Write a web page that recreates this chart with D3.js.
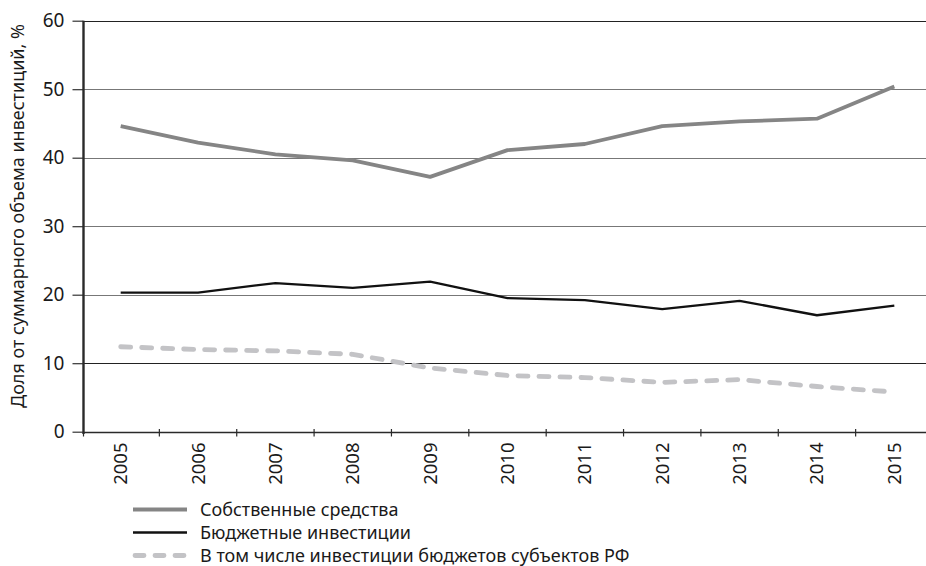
<!DOCTYPE html>
<html><head><meta charset="utf-8">
<script src="https://cdn.jsdelivr.net/npm/d3@7"></script>
<style>
html,body{margin:0;padding:0;background:#fff;}
svg{display:block;font-family:"Noto Sans",sans-serif;}
</style></head>
<body>
<svg id="c" width="926" height="566"></svg>
<script>
const years = ["2005","2006","2007","2008","2009","2010","2011","2012","2013","2014","2015"];
const ownFunds = [44.6, 42.2, 40.5, 39.6, 37.2, 41.1, 42.0, 44.6, 45.3, 45.7, 50.4];
const budgetInv = [20.3, 20.3, 21.7, 21.0, 21.9, 19.5, 19.2, 17.9, 19.1, 17.0, 18.4];
const regionalInv = [12.4, 12.0, 11.8, 11.3, 9.3, 8.2, 7.9, 7.2, 7.6, 6.6, 5.8];
const yTicks = [0, 10, 20, 30, 40, 50, 60];
const seriesNames = ["Собственные средства", "Бюджетные инвестиции", "В том числе инвестиции бюджетов субъектов РФ"];
const yTitle = "Доля от суммарного объема инвестиций, %";

const svg = d3.select("#c");
const x = d3.scaleBand().domain(years).range([82, 933]);
const y = d3.scaleLinear().domain([0, 60]).range([431.7, 20.7]);
const cx = d => x(d) + x.bandwidth() / 2;

// gridlines
svg.append("g").selectAll("line").data(yTicks.filter(t => t > 0)).join("line")
  .attr("x1", 83.5).attr("x2", 926)
  .attr("y1", d => Math.round(y(d)) + 0.5).attr("y2", d => Math.round(y(d)) + 0.5)
  .attr("stroke", d => (d === 60 || d === 10) ? "#222" : "#777")
  .attr("stroke-width", 1.2);

// y axis
const yAxis = d3.axisLeft(y).tickValues(yTicks).tickSize(11).tickPadding(8).tickFormat(d3.format("d"));
const gy = svg.append("g").attr("transform", "translate(83.5,0)").call(yAxis);
gy.select(".domain").remove();
gy.selectAll(".tick line").attr("stroke", "#333").attr("stroke-width", 1.2);
gy.selectAll(".tick text").attr("font-size", 19).attr("fill", "#1a1a1a").attr("font-family", "Noto Sans");
svg.append("line").attr("x1", 83.5).attr("x2", 83.5).attr("y1", 20.7).attr("y2", 434)
  .attr("stroke", "#2a2a2a").attr("stroke-width", 2.4);

// x axis
const gx = svg.append("g").attr("transform", "translate(0,432.5)");
gx.append("line").attr("x1", 83.5).attr("x2", 926).attr("y1", 0).attr("y2", 0)
  .attr("stroke", "#2a2a2a").attr("stroke-width", 1.6);
gx.selectAll("line.tk").data(years).join("line").attr("class", "tk")
  .attr("x1", d => x(d) + x.bandwidth()).attr("x2", d => x(d) + x.bandwidth())
  .attr("y1", -3.5).attr("y2", 4).attr("stroke", "#2a2a2a").attr("stroke-width", 1.2);
gx.selectAll("line.tk0").data([years[0]]).join("line").attr("class", "tk0")
  .attr("x1", 83.5).attr("x2", 83.5).attr("y1", 0).attr("y2", 4).attr("stroke", "#2a2a2a").attr("stroke-width", 1.2);
gx.selectAll("text").data(years).join("text")
  .attr("transform", d => `translate(${cx(d) + 6.5},10) rotate(-90)`)
  .attr("text-anchor", "end").attr("font-size", 18.5).attr("fill", "#1a1a1a")
  .text(d => d);

// y title
svg.append("text").attr("transform", "translate(24,216) rotate(-90)")
  .attr("text-anchor", "middle").attr("font-size", 18).attr("fill", "#1a1a1a").text(yTitle);

// lines
const line = d3.line().x((d, i) => cx(years[i])).y(d => y(d));
const styles = [
  {data: ownFunds, color: "#858585", width: 3.8, dash: null, cap: "butt"},
  {data: budgetInv, color: "#111", width: 2.3, dash: null, cap: "butt"},
  {data: regionalInv, color: "#c3c3c6", width: 4.8, dash: "10,11", cap: "round"}
];
styles.forEach(s => {
  svg.append("path").datum(s.data).attr("d", line)
    .attr("fill", "none").attr("stroke", s.color).attr("stroke-width", s.width)
    .attr("stroke-linejoin", "round").attr("stroke-linecap", s.cap)
    .attr("stroke-dasharray", s.dash);
});

// legend
const legY = [509.5, 532.5, 555.5];
const lg = svg.append("g");
seriesNames.forEach((n, i) => {
  const s = styles[i];
  lg.append("line").attr("x1", i === 2 ? 135 : 133).attr("x2", i === 2 ? 185 : 187)
    .attr("y1", legY[i]).attr("y2", legY[i])
    .attr("stroke", s.color).attr("stroke-width", s.width)
    .attr("stroke-linecap", s.cap).attr("stroke-dasharray", s.dash ? "9,11" : null);
  lg.append("text").attr("x", 200).attr("y", legY[i]).attr("dy", "0.36em")
    .attr("font-size", 18).attr("fill", "#1a1a1a").text(n);
});
</script>
</body></html>
